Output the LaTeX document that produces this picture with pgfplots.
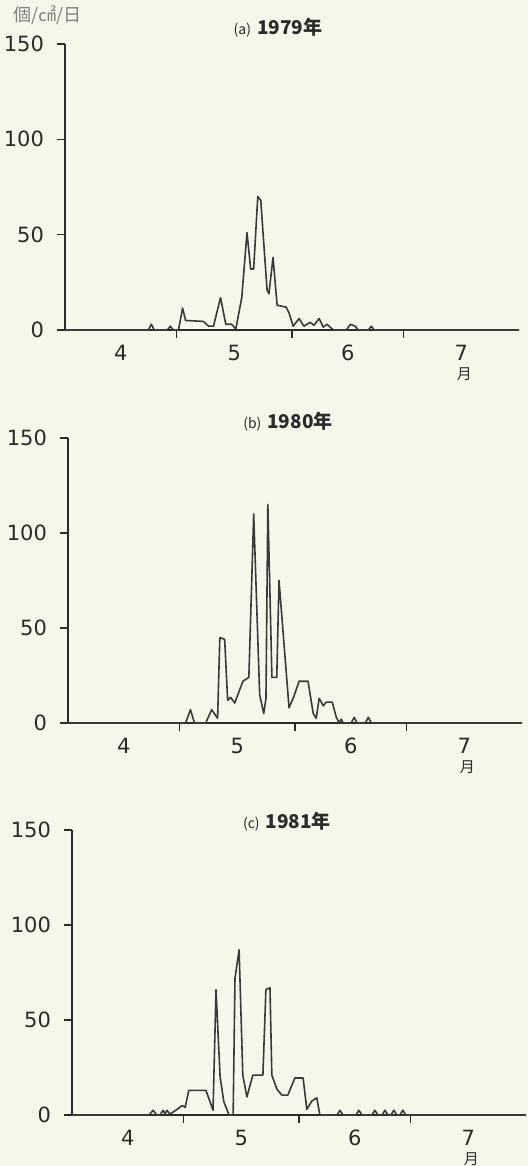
\documentclass[border=0pt]{standalone}
\usepackage{fontspec}
\setmainfont{DejaVu Sans}
\newfontfamily\cjk{Noto Sans CJK JP}
\usepackage{pgfplots}
\pgfplotsset{compat=1.18}
\definecolor{paper}{HTML}{F7F6EA}
\definecolor{ink}{HTML}{2B2B2B}
\definecolor{curve}{HTML}{3A3A3A}

% days counted from 1 April; value in individuals per cm^2 per day
\pgfplotstableread{
day val
0 0
22.4 0
23.2 3
24.0 0
27.5 0
28.3 2
29.1 0
30.5 0
31.6 11.5
32.4 5
37.2 4.5
38.6 2
39.9 2
41.8 17
43.2 3
44.8 3
45.9 0.5
47.5 17
48.9 51
49.9 32
50.7 32
51.8 70
52.6 68
54.3 21
54.8 19
55.9 38
57.0 13
59.4 12
60.2 9
61.3 2
62.9 6
64.2 2
65.9 4
66.9 2.5
68.3 6
69.4 1.5
70.4 3
72.1 0
75.6 0
76.7 3
78.0 2
78.8 0
81.5 0
82.3 2
83.1 0
122 0
}\yrA

\pgfplotstableread{
day val
0 0
31.6 0
32.9 7
34.0 0
37.0 0
38.6 7
40.2 2.5
40.8 45
42.1 44
42.9 12
43.7 13.5
44.8 10.5
47.0 22
48.6 24
49.9 110
51.5 15
52.6 5
53.2 13
53.7 115
54.8 24
56.1 24
56.7 75
59.4 8
60.7 14
62.1 22
64.5 22
65.9 5
66.7 2.5
67.5 13
68.6 9
69.4 11
71.0 11
72.1 3
72.9 0
73.4 2
74.0 0
76.1 0
76.9 3
77.7 0
79.9 0
80.7 3
81.5 0
122 0
}\yrB

\pgfplotstableread{
day val
0 0
20.7 0
21.8 2.5
22.8 0
23.6 0
24.5 2.5
25.0 0.5
25.5 2.5
26.3 0.5
27.9 2.5
29.6 5
30.4 4
31.4 13
36.0 13
37.9 2.5
38.7 66
39.8 20
40.8 7
42.2 0
43.3 0
43.8 72
44.9 87
45.9 21
47.0 9.5
48.6 21
51.3 21
52.1 66
53.2 67
53.7 21
55.1 13.5
56.4 10.5
58.0 10.5
59.9 19.5
62.1 19.5
63.1 3
64.5 7.5
65.8 9
66.6 0
71.2 0
72.0 2.5
72.8 0
76.3 0
77.1 2.5
77.9 0
80.6 0
81.4 2.5
82.2 0
83.3 0
84.1 2.5
84.9 0
85.7 0
86.5 2.5
87.3 0
88.1 0
88.9 2.5
89.7 0
122 0
}\yrC

\pgfplotsset{
  panel/.style={
    scale only axis, anchor=south west,
    width=227pt, height=143pt,
    axis lines=left,
    axis line style={-, line width=0.8pt, ink},
    xmin=0, xmax=122, ymin=0, ymax=150,
    ytick={0,50,100,150},
    xtick={30,61,91}, xticklabels={,,},
    x tick style={line width=0.8pt, ink},
    extra x ticks={15,45.5,76,106.5},
    extra x tick labels={4,5,6,{7\\[-2.5pt]\hspace*{3pt}{\cjk\fontsize{7.5}{7.5}\selectfont 月}}},
    extra x tick style={tick style={draw=none}},
    tick align=outside, major tick length=4pt,
    tick style={line width=0.8pt, ink},
    tick label style={font=\fontsize{10.5}{12}\selectfont, text=ink},
    yticklabel style={xshift=-3pt},
    xticklabel style={align=center},
    /pgf/number format/assume math mode=true,
    clip=false,
  },
  curvestyle/.style={curve, line width=0.8pt, line join=round},
}

\begin{document}
\begin{tikzpicture}
\fill[paper] (0,0) rectangle (264pt,-583pt);

\begin{axis}[panel, at={(32.5pt,-165pt)}]
\addplot[curvestyle] table[x=day, y=val] {\yrA};
\end{axis}

\begin{axis}[panel, at={(34pt,-361.5pt)}, height=142.5pt]
\addplot[curvestyle] table[x=day, y=val] {\yrB};
\end{axis}

\begin{axis}[panel, at={(36pt,-557.5pt)}, height=142.5pt]
\addplot[curvestyle] table[x=day, y=val] {\yrC};
\end{axis}

\node[anchor=west, text=gray] at (3pt,-7.5pt) {\cjk\fontsize{9}{10}\selectfont 個/㎠/日};
\node[anchor=base, text=ink] at (139pt,-17.5pt) {{\cjk\fontsize{7}{8}\selectfont (a)}\hspace{3pt}{\cjk\bfseries\fontsize{9.5}{10}\selectfont 1979年}};
\node[anchor=base, text=ink] at (144pt,-214pt) {{\cjk\fontsize{7}{8}\selectfont (b)}\hspace{3pt}{\cjk\bfseries\fontsize{9.5}{10}\selectfont 1980年}};
\node[anchor=base, text=ink] at (143.5pt,-414pt) {{\cjk\fontsize{7}{8}\selectfont (c)}\hspace{3pt}{\cjk\bfseries\fontsize{9.5}{10}\selectfont 1981年}};

\pgfresetboundingbox
\path (0,0) rectangle (264pt,-583pt);
\end{tikzpicture}
\end{document}
